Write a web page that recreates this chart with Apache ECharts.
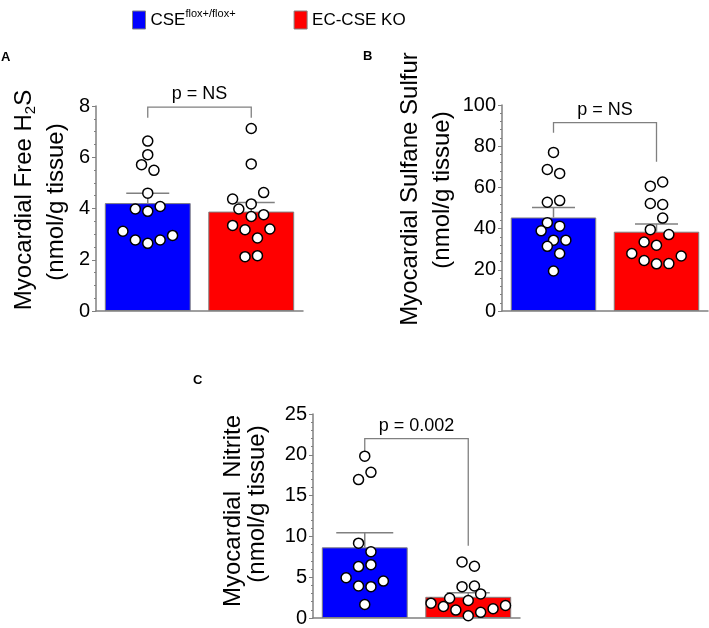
<!DOCTYPE html>
<html><head><meta charset="utf-8">
<script src="https://cdn.jsdelivr.net/npm/echarts@6/dist/echarts.min.js"></script>
<style>html,body{margin:0;padding:0;background:#fff}#c{width:709px;height:628px}</style>
</head><body><div id="c"></div>
<script>
// ---------- data ----------
const groups = ['CSE', 'EC-CSE KO'];
const panelLetters = ['A', 'B', 'C'];
const yTitleLine1 = ['Myocardial Free H{sub|2}S', 'Myocardial Sulfane Sulfur', 'Myocardial  Nitrite'];
const yTitleLine2 = '(nmol/g tissue)';
const yMax = [8, 100, 25];
const yInterval = [2, 20, 5];
const yMinorSplit = [4, 5, 5];

const meanA = [4.21, 3.88];
const semA = [0.39, 0.35];
const meanB = [45.4, 38.5];
const semB = [4.8, 3.7];
const meanC = [8.66, 2.60];
const semC = [1.80, 0.50];

const dotsA_cse_y = [6.63, 6.10, 5.71, 5.49, 4.60, 3.98, 3.89, 4.08, 3.11, 2.95, 2.77, 2.64, 2.77];
const dotsA_cse_x = [0, 0, -0.06, 0.06, 0, -0.12, 0, 0.12, -0.24, 0.24, -0.12, 0, 0.12];
const dotsA_ko_y = [7.12, 5.74, 4.62, 4.37, 4.18, 3.98, 3.69, 3.76, 3.34, 3.17, 3.20, 2.85, 2.12, 2.16];
const dotsA_ko_x = [0, 0, 0.12, -0.18, 0, -0.12, 0, 0.12, -0.18, -0.06, 0.18, 0.06, -0.06, 0.06];

const dotsB_cse_y = [77.0, 68.7, 66.8, 52.8, 53.6, 42.9, 41.2, 38.9, 34.4, 34.4, 31.4, 27.9, 19.4];
const dotsB_cse_x = [0, -0.06, 0.06, -0.06, 0.06, -0.06, 0.06, -0.12, 0, 0.12, -0.06, 0.06, 0];
const dotsB_ko_y = [60.6, 62.6, 52.2, 51.7, 45.1, 39.5, 37.1, 33.5, 31.9, 27.9, 26.7, 24.5, 22.9, 23.0];
const dotsB_ko_x = [-0.06, 0.06, -0.06, 0.06, 0.06, -0.06, 0.12, -0.12, 0, -0.24, 0.24, -0.12, 0, 0.12];

const dotsC_cse_y = [19.83, 16.96, 17.85, 9.17, 8.12, 6.30, 6.54, 4.93, 4.52, 3.92, 3.84, 1.66];
const dotsC_cse_x = [0, -0.06, 0.06, -0.06, 0.06, -0.06, 0.06, -0.18, 0.18, -0.06, 0.06, 0];
const dotsC_ko_y = [6.87, 6.34, 3.84, 3.92, 2.95, 2.42, 2.14, 1.82, 1.41, 1.53, 1.13, 0.97, 0.69, 0.28];
const dotsC_ko_x = [-0.06, 0.06, -0.06, 0.06, 0.12, -0.18, 0, -0.36, -0.24, 0.36, 0.24, -0.12, 0.12, 0];

// bracket: [top level, left foot, right foot]
const bracketA = [7.96, 7.54, 7.54];
const bracketB = [91.4, 86.5, 72.4];
const bracketC = [21.97, 20.07, 8.85];
const pLabels = ['p = NS', 'p = NS', 'p = 0.002'];

// ---------- styling / layout ----------
const FONT = '"Liberation Sans", Arial, sans-serif';
const GRAY = '#808080';
const BLUE = '#0000ff';
const RED = '#ff0000';
const grids = [
  { left: 96, top: 106, width: 207, height: 205 },
  { left: 502, top: 105, width: 206, height: 206 },
  { left: 313, top: 414, width: 207, height: 207 }
];
const capPx = [[43, 47], [43, 43], [57, 43]];
const titlePos = [
  [[24, 200], [56, 202]],
  [[410, 189], [442, 190]],
  [[233, 511], [257, 504]]
];
const letterPos = [[1, 64], [363, 63], [193, 387]];

const panels = [
  { mean: meanA, sem: semA, dots: [[dotsA_cse_x, dotsA_cse_y], [dotsA_ko_x, dotsA_ko_y]], bracket: bracketA },
  { mean: meanB, sem: semB, dots: [[dotsB_cse_x, dotsB_cse_y], [dotsB_ko_x, dotsB_ko_y]], bracket: bracketB },
  { mean: meanC, sem: semC, dots: [[dotsC_cse_x, dotsC_cse_y], [dotsC_ko_x, dotsC_ko_y]], bracket: bracketC }
];

const xAxes = [], yAxes = [], series = [], graphics = [];
panels.forEach((p, i) => {
  xAxes.push({
    type: 'category', gridIndex: i, data: groups, boundaryGap: true,
    axisLine: { show: true, onZero: false, lineStyle: { color: GRAY, width: 1.5 } },
    axisTick: { show: false }, axisLabel: { show: false }, splitLine: { show: false }
  });
  xAxes.push({
    type: 'value', gridIndex: i, min: -0.5, max: 1.5, show: false,
    axisLine: { show: false, onZero: false }, axisTick: { show: false },
    axisLabel: { show: false }, splitLine: { show: false }
  });
  yAxes.push({
    type: 'value', gridIndex: i, min: 0, max: yMax[i], interval: yInterval[i],
    axisLine: { show: true, onZero: false, lineStyle: { color: GRAY, width: 1.5 } },
    axisTick: { show: true, length: 4, lineStyle: { color: GRAY, width: 1 } },
    minorTick: { show: true, splitNumber: yMinorSplit[i], length: 2, lineStyle: { color: GRAY, width: 1 } },
    splitLine: { show: false }, minorSplitLine: { show: false },
    axisLabel: { color: '#000', fontSize: 20, fontFamily: FONT, margin: 6 }
  });
  const colors = [BLUE, RED];
  groups.forEach((g, k) => {
    series.push({
      type: 'bar', name: g, xAxisIndex: 2 * i, yAxisIndex: i,
      data: k === 0 ? [p.mean[0], '-'] : ['-', p.mean[1]],
      barWidth: '83%', barGap: '-100%',
      itemStyle: { color: colors[k], borderColor: GRAY, borderWidth: 1 },
      z: 2, silent: true
    });
  });
  // error bars
  series.push({
    type: 'custom', name: 'sem' + i, xAxisIndex: 2 * i, yAxisIndex: i, z: 3, silent: true,
    data: [[0, p.mean[0], p.sem[0]], [1, p.mean[1], p.sem[1]]],
    encode: { x: 0, y: 1 },
    renderItem: function (params, api) {
      const c = api.value(0), m = api.value(1), s = api.value(2);
      const p0 = api.coord([c, m]);
      const p1 = api.coord([c, m + s]);
      const w = capPx[i][params.dataIndex] / 2;
      const ls = { stroke: GRAY, lineWidth: 1.5 };
      return {
        type: 'group', children: [
          { type: 'line', shape: { x1: p0[0], y1: p0[1], x2: p1[0], y2: p1[1] }, style: ls },
          { type: 'line', shape: { x1: p1[0] - w, y1: p1[1], x2: p1[0] + w, y2: p1[1] }, style: ls }
        ]
      };
    }
  });
  // dots
  p.dots.forEach((d, k) => {
    series.push({
      type: 'scatter', name: 'dots' + i + k, xAxisIndex: 2 * i + 1, yAxisIndex: i, z: 5, silent: true,
      data: d[1].map((y, j) => [k + d[0][j], y]),
      symbol: 'circle', symbolSize: 10,
      itemStyle: { color: '#fff', borderColor: '#000', borderWidth: 1.5, opacity: 1 }
    });
  });
  // bracket + p label
  series.push({
    type: 'custom', name: 'bracket' + i, xAxisIndex: 2 * i, yAxisIndex: i, z: 4, silent: true, clip: false,
    data: [[0, 1, p.bracket[0], p.bracket[1], p.bracket[2]]],
    encode: { x: [0, 1], y: [2, 3, 4] },
    renderItem: function (params, api) {
      const top = api.value(2), lf = api.value(3), rf = api.value(4);
      const a = api.coord([0, top]), b = api.coord([1, top]);
      const la = api.coord([0, lf]), rb = api.coord([1, rf]);
      const ls = { stroke: GRAY, lineWidth: 1.3, fill: null };
      return {
        type: 'group', children: [
          { type: 'polyline', shape: { points: [[la[0], la[1]], [a[0], a[1]], [b[0], b[1]], [rb[0], rb[1]]] }, style: ls },
          { type: 'text', x: (a[0] + b[0]) / 2, y: a[1] - 13,
            style: { text: pLabels[i], fill: '#000', font: '18px ' + FONT, align: 'center', verticalAlign: 'middle' } }
        ]
      };
    }
  });
  // axis titles
  [yTitleLine1[i], yTitleLine2].forEach((t, li) => {
    graphics.push({
      type: 'text', x: titlePos[i][li][0], y: titlePos[i][li][1], rotation: Math.PI / 2,
      style: {
        text: t, fill: '#000', font: '24px ' + FONT, align: 'center', verticalAlign: 'middle',
        rich: { sub: { fontSize: 15, fontFamily: FONT, verticalAlign: 'bottom', lineHeight: 15 } },
        lineHeight: 28
      }
    });
  });
  graphics.push({
    type: 'text', x: letterPos[i][0], y: letterPos[i][1],
    style: { text: panelLetters[i], fill: '#000', font: 'bold 13px ' + FONT, align: 'left', verticalAlign: 'bottom' }
  });
});

const chart = echarts.init(document.getElementById('c'), null, { renderer: 'canvas' });
chart.setOption({
  animation: false,
  backgroundColor: '#fff',
  grid: grids.map(g => Object.assign({ containLabel: false }, g)),
  xAxis: xAxes,
  yAxis: yAxes,
  legend: {
    data: groups, left: 127, top: 3, orient: 'horizontal',
    icon: 'rect', itemWidth: 13, itemHeight: 18, itemGap: 58,
    itemStyle: { borderColor: GRAY, borderWidth: 1 },
    selectedMode: false,
    formatter: function (name) { return name === 'CSE' ? '{m|CSE}{s|flox+/flox+}' : '{m|' + name + '}'; },
    textStyle: {
      color: '#000', fontFamily: FONT, fontSize: 17,
      rich: {
        m: { fontSize: 17, fontFamily: FONT, lineHeight: 24, color: '#000' },
        s: { fontSize: 11, fontFamily: FONT, lineHeight: 12, verticalAlign: 'top', color: '#000' }
      }
    }
  },
  graphic: graphics,
  series: series
});
</script></body></html>
